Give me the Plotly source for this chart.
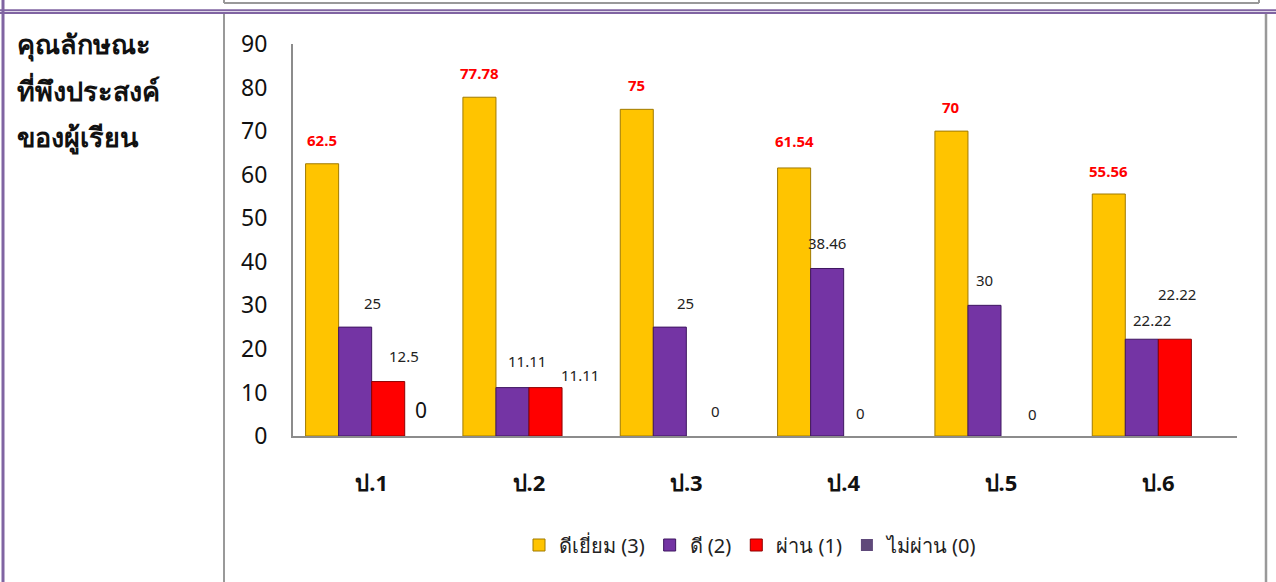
import plotly.graph_objects as go

# ---------------- data ----------------
categories = ["ป.1", "ป.2", "ป.3", "ป.4", "ป.5", "ป.6"]
series_names = ["ดีเยี่ยม (3)", "ดี (2)", "ผ่าน (1)", "ไม่ผ่าน (0)"]
excellent = [62.5, 77.78, 75, 61.54, 70, 55.56]
good = [25, 11.11, 25, 38.46, 30, 22.22]
passed = [12.5, 11.11, 0, 0, 0, 22.22]
failed = [0, 0, 0, 0, 0, 0]
y_ticks = [0, 10, 20, 30, 40, 50, 60, 70, 80, 90]
side_title = ["คุณลักษณะ", "ที่พึงประสงค์", "ของผู้เรียน"]

# which data labels are displayed (as in the reference)
show_excellent = [True] * 6
show_good = [True] * 6
show_passed = [True] * 6
show_failed = [True, False, False, False, False, False]

# ---------------- style ----------------
W, H = 1276, 582
colors = ["#FFC400", "#7434A4", "#FF0000", "#5F497A"]
line_colors = ["#A07A00", "#3E1660", "#8E0000", "#3A2A50"]
x0_px, x1_px, y_top_px, y_bot_px = 293, 1237, 44, 436
bargap = 0.16

# label pixel offsets (dx, dy above bar top)
lab_dx = [[0] * 6, [17, 15, 16, 0, 0, 10], [16, 34, 13, 0, 15, 2], [0] * 6]
lab_dy = [[24, 24, 24, 27, 24, 23], [24, 27, 24, 25, 25, 19],
          [26, 13, 25, 23, 22, 45], [26] * 6]

fig = go.Figure()
all_series = [excellent, good, passed, failed]
for name, vals, c, lc in zip(series_names, all_series, colors, line_colors):
    fig.add_trace(go.Bar(
        x=categories, y=vals, name=name,
        marker=dict(color=c, line=dict(color=lc, width=[1 if v else 0 for v in vals])),
    ))

group_w = (x1_px - x0_px) / len(categories)
bar_w = group_w * (1 - bargap) / 4
shows = [show_excellent, show_good, show_passed, show_failed]
annotations = []
for k, vals in enumerate(all_series):
    for i, v in enumerate(vals):
        if not shows[k][i]:
            continue
        txt = f"{v:g}"
        if k == 0:
            font = dict(family="Noto Sans, sans-serif", size=15, color="#FF0000")
            txt = f"<b>{txt}</b>"
        elif k == 3:
            font = dict(family="Noto Sans, sans-serif", size=21, color="#111111")
        else:
            font = dict(family="Noto Sans, sans-serif", size=15, color="#222222")
        annotations.append(dict(
            x=categories[i], y=v, xref="x", yref="y", text=txt, showarrow=False,
            xanchor="center", yanchor="middle", font=font,
            xshift=(k - 1.5) * bar_w + lab_dx[k][i], yshift=lab_dy[k][i],
        ))

def px(x):
    return x / W

def py(y):
    return 1 - y / H

# side title
for j, t in enumerate(side_title):
    annotations.append(dict(
        x=px(15), y=py(44 + j * 46), xref="paper", yref="paper",
        text=f"<b>{t}</b>", showarrow=False, xanchor="left", yanchor="middle",
        font=dict(family="Noto Sans, sans-serif", size=27, color="#111111"),
    ))

purple = "#8064A2"
gray = "#999999"
shapes = [
    dict(type="line", x0=px(224), x1=px(1259), y0=py(3), y1=py(3), line=dict(color=gray, width=2)),
    dict(type="line", x0=px(224), x1=px(224), y0=py(0), y1=py(3), line=dict(color=gray, width=2)),
    dict(type="line", x0=px(1259), x1=px(1259), y0=py(0), y1=py(3), line=dict(color=gray, width=2)),
    dict(type="line", x0=0, x1=1, y0=py(10.2), y1=py(10.2), line=dict(color=purple, width=2)),
    dict(type="line", x0=0, x1=1, y0=py(13), y1=py(13), line=dict(color=purple, width=2)),
    dict(type="line", x0=px(3), x1=px(3), y0=0, y1=1, line=dict(color=purple, width=3)),
    dict(type="line", x0=px(224), x1=px(224), y0=0, y1=py(14), line=dict(color=gray, width=2)),
    dict(type="line", x0=px(1266), x1=px(1266), y0=0, y1=py(14), line=dict(color=gray, width=2.5)),
]
for s in shapes:
    s["xref"] = "paper"
    s["yref"] = "paper"
    s["layer"] = "below"

fig.update_layout(
    width=W, height=H,
    margin=dict(l=0, r=0, t=0, b=0, autoexpand=False),
    paper_bgcolor="white", plot_bgcolor="white",
    barmode="group", bargap=bargap, bargroupgap=0,
    showlegend=True,
    legend=dict(orientation="h", x=px(751), y=py(545), xanchor="center", yanchor="middle",
                font=dict(family="Noto Sans, sans-serif", size=20, color="#222222"),
                itemwidth=30, traceorder="normal"),
    xaxis=dict(domain=[px(x0_px), px(x1_px)], showline=True, linecolor="#8C8C8C", linewidth=2,
               showgrid=False, ticks="", ticklabelstandoff=27,
               tickfont=dict(family="Noto Sans, sans-serif", size=22, color="#111111"),
               tickvals=categories, ticktext=[f"<b>{c}</b>" for c in categories]),
    yaxis=dict(domain=[py(y_bot_px), py(y_top_px)], range=[0, 90], showline=True,
               linecolor="#8C8C8C", linewidth=2, showgrid=False, zeroline=False,
               ticks="", tickvals=y_ticks, ticklabelstandoff=19,
               tickfont=dict(family="Noto Sans, sans-serif", size=23, color="#111111")),
    annotations=annotations, shapes=shapes,
)

fig.write_html("out.html", config={"displayModeBar": False},
               post_script="document.body.style.margin='0';document.body.style.overflow='hidden';")
